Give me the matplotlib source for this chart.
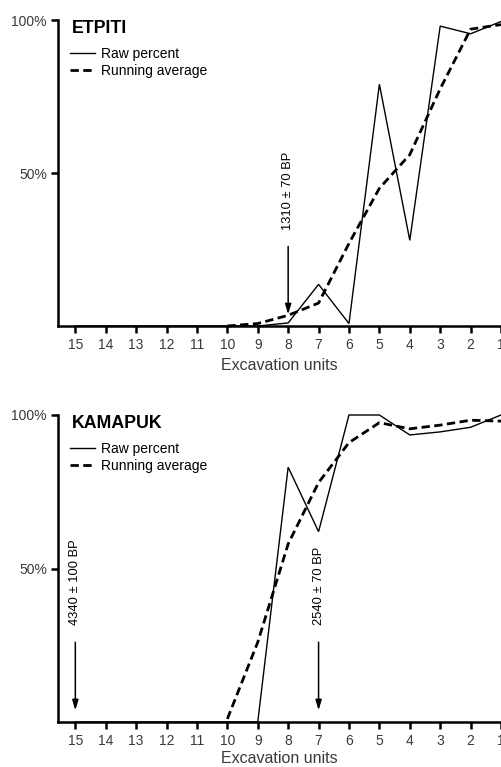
import matplotlib
matplotlib.use("Agg")
import matplotlib.pyplot as plt
import numpy as np
from matplotlib.lines import Line2D

plt.rcParams['font.family'] = ['Liberation Sans', 'DejaVu Sans']

units = [15, 14, 13, 12, 11, 10, 9, 8, 7, 6, 5, 4, 3, 2, 1]

etpiti_raw = [0, 0, 0, 0, 0, 0, 0, 1, 13.6, 0.8, 79, 28, 98, 95.5, 99.5]
etpiti_avg = [np.nan, np.nan, np.nan, np.nan, np.nan, 0, 0.8, 3.5, 7.5, 27, 45, 56, 77.5, 97, 98.5]

kamapuk_raw = [0, 0, 0, 0, 0, 0, 0, 83, 62, 100, 100, 93.5, 94.5, 96, 100]
kamapuk_avg = [np.nan, np.nan, np.nan, np.nan, np.nan, 1, 26, 58, 78, 91, 97.5, 95.5, 96.7, 98.3, 98]

panels = [
    dict(name="ETPITI", raw=etpiti_raw, avg=etpiti_avg, labelpad=4.5,
         dates=[(8, "1310 \u00b1 70 BP")], rect=[58/501, 1-326/767, 443/501, 306/767]),
    dict(name="KAMAPUK", raw=kamapuk_raw, avg=kamapuk_avg, labelpad=2.5,
         dates=[(15, "4340 \u00b1 100 BP"), (7, "2540 \u00b1 70 BP")],
         rect=[58/501, 1-722/767, 443/501, 307/767]),
]

fig = plt.figure(figsize=(5.01, 7.67), dpi=100)
gray = '#3a3a3a'
dash = (3.0, 1.6)

for p in panels:
    ax = fig.add_axes(p['rect'])
    ax.plot(units, p['raw'], color='black', lw=1.0, solid_joinstyle='miter',
            clip_on=False, zorder=1)
    ax.plot(units, p['avg'], color='black', lw=2.0, dashes=dash, clip_on=False, zorder=1)
    ax.set_xlim(15.57, 1.06)
    ax.set_ylim(0, 100)
    ax.set_xticks(units)
    ax.set_xticklabels([str(u) for u in units])
    ax.set_yticks([50, 100])
    ax.set_yticklabels(['50%', '100%'])
    for s in ['top', 'right']:
        ax.spines[s].set_visible(False)
    for s in ['left', 'bottom']:
        ax.spines[s].set_linewidth(1.8)
        ax.spines[s].set_zorder(3)
    ax.tick_params(axis='both', direction='out', length=5, width=1.8,
                   labelsize=10, labelcolor=gray)
    ax.tick_params(axis='x', pad=3.5)
    ax.tick_params(axis='y', pad=3)
    ax.set_xlabel("Excavation units", fontsize=11.5, color=gray, labelpad=p['labelpad'])
    ax.text(0.032, 1.0, p['name'], transform=ax.transAxes, fontsize=12.8,
            fontweight='bold', va='top', ha='left')
    handles = [Line2D([0], [0], color='black', lw=1.0),
               Line2D([0], [0], color='black', lw=2.0, dashes=dash)]
    ax.legend(handles, ["Raw percent", "Running average"], loc='upper left',
              bbox_to_anchor=(0.015, 0.93), frameon=False, fontsize=10,
              handlelength=1.75, handletextpad=0.45, labelspacing=0.2,
              borderaxespad=0.2, borderpad=0.2)
    for u, label in p['dates']:
        ax.text(u, 31.5, label, rotation=90, ha='center', va='bottom', fontsize=9.3)
        ax.annotate('', xy=(u, 3.8), xytext=(u, 26),
                    arrowprops=dict(arrowstyle='-|>,head_length=0.6,head_width=0.18',
                                    color='black', lw=1.1, shrinkA=0, shrinkB=0))

fig.savefig("out.png", dpi=100)
